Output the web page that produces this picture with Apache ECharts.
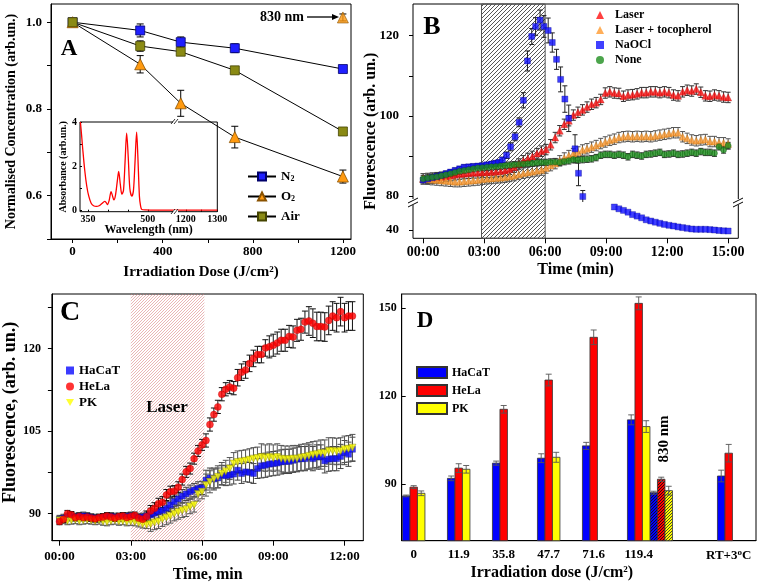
<!DOCTYPE html>
<html><head><meta charset="utf-8">
<script src="https://cdn.jsdelivr.net/npm/echarts@6/dist/echarts.min.js"></script>
<style>html,body{margin:0;padding:0;background:#fff}#c{width:759px;height:588px}</style>
</head><body><div id="c"></div>
<script>
const FONT = "'Liberation Serif','Times New Roman',serif";
// ---------- Panel A ----------
const doseA = [0, 300, 480, 720, 1200];
const n2 = [1.0, 0.981, 0.954, 0.940, 0.892];
const n2Err = [0, 0.015, 0.012, 0.010, 0.004];
const o2 = [1.0, 0.903, 0.813, 0.735, 0.644];
const o2Err = [0, 0.02, 0.03, 0.025, 0.015];
const air = [1.0, 0.945, 0.932, 0.889, 0.748];
const airErr = [0, 0.012, 0.006, 0.008, 0.007];
const o2At830Dose = [1200];
const o2At830 = [1.011];
const o2At830Err = [0.008];
// inset absorbance spectrum
const insetWl = [331,334,337,342,347,352,358,364,371,378,385,392,396,399,403,408,411,415,419,424,427,431,435,439,443,447,451,455,460,464,468,472,475,479,482,485,495,520,570];
const insetAbs = [4.0,3.4,2.75,1.8,1.1,0.65,0.33,0.22,0.19,0.22,0.32,0.42,0.35,0.27,0.45,0.86,0.7,0.48,0.7,1.4,1.77,1.2,0.74,0.9,2.2,3.5,2.4,1.0,0.65,0.9,2.2,3.54,2.5,0.65,0.2,0.05,0.03,0.02,0.02];
const insetWlFar = [1168, 1300];
const insetAbsFar = [0.02, 0.02];
// ---------- Panel B ----------
const bStepMin = 15 / 67;
const tB = []; for (let i = 0; i < 68; i++) tB.push(i * bStepMin);
const laserB = [84.3,84.4,84.5,84.6,84.7,84.9,85.1,85.3,85.5,85.6,
 85.7,85.8,85.8,85.9,85.9,86.0,86.1,86.2,86.4,86.7,
 87.2,88.0,88.8,89.4,89.9,90.6,91.2,91.6,92.8,94.6,
 96.3,97.9,98.8,100.2,100.9,101.5,102.2,102.9,103.3,104.1,
 105.7,106.0,105.7,105.6,104.9,105.2,105.3,105.5,105.8,105.8,
 106.0,106.0,105.8,106.0,105.8,105.2,105.0,106.0,106.4,106.2,
 106.7,105.9,105.0,104.9,105.2,105.0,104.7,104.6];
const tocoB = [84.3,84.2,84.1,84.0,83.9,83.8,83.7,83.6,83.6,83.7,
 83.8,83.9,84.0,84.2,84.3,84.4,84.5,84.6,84.7,84.9,
 85.1,85.4,85.7,85.9,86.1,86.3,86.5,87.0,87.6,88.1,
 88.8,89.5,90.1,90.6,91.0,91.5,91.8,92.2,92.6,93.1,
 93.5,93.9,94.2,94.6,94.8,94.9,94.8,94.9,94.8,94.9,
 94.8,95.0,95.2,95.4,95.6,95.8,95.8,94.8,94.4,94.0,
 93.8,94.0,94.1,93.6,93.6,93.3,93.3,93.0];
const noneB = [84.3,84.5,84.7,84.8,85.1,85.3,85.6,85.9,86.2,86.4,
 86.6,86.8,87.0,87.1,87.2,87.3,87.4,87.5,87.6,87.7,
 87.8,87.9,88.0,88.1,88.2,88.3,88.4,88.4,88.5,88.5,
 88.4,88.6,88.8,89.1,89.0,89.1,89.2,89.3,89.6,90.2,
 90.4,90.4,90.2,90.4,90.2,89.8,90.4,90.2,90.0,90.4,
 90.5,90.7,90.9,90.4,90.5,90.7,90.4,90.5,90.7,90.9,
 90.7,91.1,90.9,90.9,90.7,92.3,91.5,92.6];
const laserBErr = 1.3, tocoBErr = 1.3, noneBErr = 0.8;
const naoclT = [0,0.22,0.45,0.67,0.9,1.12,1.34,1.57,1.79,2.01,2.24,2.46,2.69,2.91,3.13,3.36,3.55,3.72,3.9,4.1,4.3,4.52,4.72,4.93,5.13,5.34,5.53,5.75,5.94,6.15,6.35,6.56,6.76,6.97,7.16,7.47,7.64,7.85];
const naoclV = [84.0,84.3,84.6,84.9,85.2,85.6,86.0,86.4,86.8,87.2,87.3,87.4,87.5,87.6,87.8,88.0,88.2,88.4,89.0,90.2,92.3,94.8,98.4,103.9,113.7,119.8,122.3,123.9,122.3,121.3,118.3,114.1,109.1,104.2,99.4,91.8,85.7,79.9];
const naoclErr = [0.6,0.6,0.6,0.6,0.6,0.6,0.6,0.6,0.6,0.6,0.6,0.6,0.6,0.6,0.6,0.6,0.6,0.6,0.7,0.8,1.0,1.0,1.1,1.9,2.5,2.0,2.2,2.5,2.7,3.1,2.4,2.5,3.1,3.3,3.3,3.5,3.1,1.5];
const naoclLowT = tB.slice(42);
const naoclLow = [63.0,61.2,59.6,57.8,55.4,53.9,52.2,50.2,49.0,47.8,46.7,45.6,44.7,44.0,43.1,42.4,41.7,41.0,40.7,40.7,40.7,40.4,40.0,39.5,39.2,39.0];
const laserSpanB = [2.87, 6.0];
const bTimeTicks = [0, 3, 6, 9, 12, 15];
// ---------- Panel C ----------
const tC = []; for (let i = 0; i < 75; i++) tC.push(i / 6);
const helaC = [88.6,89.0,90.0,89.8,89.3,89.5,89.3,89.4,89.2,89.1,
 89.3,89.4,89.6,89.4,89.2,89.5,89.6,89.3,89.5,89.7,
 89.2,89.0,89.5,90.5,91.0,91.8,92.1,93.4,94.0,94.1,
 94.8,96.2,97.6,98.2,100.0,101.4,102.5,103.3,106.2,108.0,
 109.4,111.7,112.6,113.0,112.8,114.7,115.7,116.1,117.3,118.2,
 118.9,118.9,120.1,120.3,120.6,121.0,121.5,121.5,122.2,122.1,
 123.3,123.5,124.8,125.0,124.6,124.0,124.0,123.9,125.1,125.9,
 125.6,126.7,125.6,125.9,125.9];
const hacatC = [89.0,89.2,89.4,89.5,89.4,89.5,89.6,89.5,89.3,89.2,
 89.2,89.3,89.4,89.5,89.4,89.3,89.4,89.5,89.6,89.4,
 89.3,89.4,89.6,89.8,90.1,90.4,90.6,91.0,91.6,92.2,
 92.7,93.2,93.6,94.0,94.3,94.6,94.7,96.1,96.5,96.3,
 96.5,97.0,96.9,97.0,97.2,97.9,97.3,97.6,97.5,97.3,
 98.2,98.7,98.8,99.0,99.1,99.2,99.4,99.5,99.5,99.7,
 99.9,100.0,100.0,100.3,100.0,100.3,100.3,99.6,99.9,100.0,
 100.0,100.4,101.1,100.8,101.7];
const pkC = [88.8,88.9,88.7,88.8,88.9,88.7,88.8,88.9,88.8,88.7,
 88.8,88.6,88.5,88.7,88.8,88.6,88.7,88.5,88.6,88.5,
 88.3,88.1,88.0,88.1,88.4,88.6,89.0,89.3,89.6,90.0,
 90.3,90.6,90.8,91.3,91.6,93.6,94.0,95.2,95.8,96.3,
 96.7,97.3,97.7,98.2,99.1,99.4,99.5,99.6,99.8,100.0,
 100.1,100.3,100.1,100.3,100.1,100.3,100.0,99.9,99.9,100.0,
 100.0,100.2,100.3,100.5,100.7,100.8,101.0,101.0,101.4,101.4,
 101.3,101.4,101.7,101.8,102.0];
const helaCErr = [0.6,0.6,0.6,0.6,0.6,0.6,0.6,0.6,0.6,0.6,0.6,0.6,0.6,0.6,0.6,0.6,0.6,0.6,0.6,0.6,0.6,0.6,
 1.0,1.0,1.0,1.0,1.0,1.0,1.0,1.0,1.0,1.0,1.0,1.0,1.0,1.0,1.0,
 1.2,1.2,1.2,1.2,1.2,1.2,1.2,1.2,
 1.5,1.5,1.5,1.5,1.5,1.5,1.5,1.5,
 2.0,2.0,2.0,2.0,2.0,2.0,2.0,2.0,2.0,2.0,
 2.6,2.6,2.6,2.6,2.6,2.6,2.6,2.6,2.6,2.6,2.6,2.6];
const hacatCErr = [0.7,0.7,0.7,0.7,0.7,0.7,0.7,0.7,0.7,0.7,0.7,0.7,0.7,0.7,0.7,0.7,0.7,0.7,0.7,0.7,0.7,0.7,0.7,
 1.2,1.2,1.2,1.2,1.2,1.2,1.2,1.2,1.2,1.2,1.2,1.2,1.2,1.2,
 1.8,1.8,1.8,1.8,1.8,1.8,1.8,1.8,1.8,1.8,1.8,1.8,1.8,1.8,
 2.2,2.2,2.2,2.2,2.2,2.2,2.2,2.2,2.2,2.2,2.2,2.2,2.2,2.2,2.2,2.2,2.2,2.2,2.2,2.2,2.2,2.2,2.2,2.2];
const pkCErr = [0.7,0.7,0.7,0.7,0.7,0.7,0.7,0.7,0.7,0.7,0.7,0.7,0.7,0.7,0.7,0.7,0.7,0.7,0.7,0.7,0.7,0.7,0.7,
 1.3,1.3,1.3,1.3,1.3,1.3,1.3,1.3,1.3,1.3,1.3,1.3,1.3,1.3,
 2.0,2.0,2.0,2.0,2.0,2.0,2.0,2.0,2.0,2.0,2.0,2.0,2.0,2.0,
 2.4,2.4,2.4,2.4,2.4,2.4,2.4,2.4,2.4,2.4,2.4,2.4,2.4,2.4,2.4,2.4,2.4,2.4,2.4,2.4,2.4,2.4,2.4,2.4];
const laserSpanC = [3.0, 6.1];
const cTimeTicks = [0, 3, 6, 9, 12];
// ---------- Panel D ----------
const dCats = ['0', '11.9', '35.8', '47.7', '71.6', '119.4', '830 nm', 'RT+3°C'];
const dHaCaT = [85.9, 91.9, 97.1, 98.8, 103.0, 111.9, 87.0, 92.7];
const dHeLa = [88.9, 95.4, 115.5, 125.5, 140.1, 151.7, 91.6, 100.5];
const dPK = [86.8, 95.0, null, 99.1, null, 109.6, 87.7, null];
const dHaCaTErr = [0.3, 0.8, 0.7, 1.5, 1.2, 1.7, 0.5, 2.0];
const dHeLaErr = [0.5, 1.5, 1.3, 2.0, 2.5, 2.2, 0.7, 3.0];
const dPKErr = [0.8, 1.3, null, 1.7, null, 2.0, 1.5, null];
// layout: half-slot position of each group on the D axis
const dSlot = [0, 2, 4, 6, 8, 10, 11, 14];
const D_YMIN = 70.6, D_YMAX = 154.9;

// ---------- helpers ----------
function hatch(fg, bg, step, lw) {
  const c = document.createElement('canvas');
  c.width = step; c.height = step;
  const g = c.getContext('2d');
  if (bg) { g.fillStyle = bg; g.fillRect(0, 0, step, step); }
  g.strokeStyle = fg; g.lineWidth = lw;
  g.beginPath();
  g.moveTo(0, step); g.lineTo(step, 0);
  g.moveTo(-1, 1); g.lineTo(1, -1);
  g.moveTo(step - 1, step + 1); g.lineTo(step + 1, step - 1);
  g.stroke();
  return { image: c, repeat: 'repeat' };
}
const TXT = { fontFamily: FONT, fontWeight: 'bold', color: '#000' };
function errRender(color, cap, lw) {
  return function (params, api) {
    const x = api.value(0), lo = api.value(1), hi = api.value(2);
    const a = api.coord([x, lo]), b = api.coord([x, hi]);
    const st = { stroke: color, lineWidth: lw || 1 };
    return { type: 'group', children: [
      { type: 'line', shape: { x1: a[0], y1: a[1], x2: b[0], y2: b[1] }, style: st },
      { type: 'line', shape: { x1: a[0] - cap, y1: a[1], x2: a[0] + cap, y2: a[1] }, style: st },
      { type: 'line', shape: { x1: b[0] - cap, y1: b[1], x2: b[0] + cap, y2: b[1] }, style: st }
    ] };
  };
}
function errSeries(xs, ys, es, ai, color, cap, z) {
  const data = [];
  for (let i = 0; i < xs.length; i++) {
    const e = Array.isArray(es) ? es[i] : es;
    if (ys[i] == null || !e) continue;
    data.push([xs[i], ys[i] - e, ys[i] + e]);
  }
  return { type: 'custom', xAxisIndex: ai, yAxisIndex: ai, renderItem: errRender(color, cap), data: data,
    clip: true, silent: true, z: z || 1, encode: { x: 0, y: [1, 2] } };
}
function pts(xs, ys) { const r = []; xs.forEach((x, i) => { if (ys[i] != null) r.push([x, ys[i]]); }); return r; }
function hidden(grid, min, max) { return { gridIndex: grid, type: 'value', show: false, min: min, max: max }; }
function timeFmt(v) { return (v < 10 ? '0' : '') + v + ':00'; }
const plain = v => String(v);
const SUP = { fontFamily: FONT, fontWeight: 'bold', fontSize: 9, verticalAlign: 'top', padding: [0, 0, 6, 0] };

// ---------- D bars via custom ----------
const hatchFill = { '#0000ff': hatch('#111', '#0000ff', 3, 0.9), '#ff0000': hatch('#111', '#ff0000', 3, 0.9), '#ffff00': hatch('#333', '#ffff00', 3, 0.9) };
function barRender(color, off) {
  return function (params, api) {
    const k = api.value(0), v = api.value(1), e = api.value(2), hat = api.value(3);
    const w = api.size([1 / 3, 0])[0];
    const top = api.coord([k, v]), bot = api.coord([k, D_YMIN]);
    const cx = top[0] + off * w;
    const ch = [{ type: 'rect', shape: { x: cx - w / 2, y: top[1], width: w, height: bot[1] - top[1] },
      style: { fill: hat ? hatchFill[color] : color, stroke: '#333', lineWidth: 0.8 } }];
    if (e) {
      const a = api.coord([k, v + e]), b = api.coord([k, v - e]);
      const st = { stroke: '#555', lineWidth: 0.9 };
      ch.push({ type: 'line', shape: { x1: cx, y1: a[1], x2: cx, y2: b[1] }, style: st });
      ch.push({ type: 'line', shape: { x1: cx - 3, y1: a[1], x2: cx + 3, y2: a[1] }, style: st });
      ch.push({ type: 'line', shape: { x1: cx - 3, y1: b[1], x2: cx + 3, y2: b[1] }, style: st });
    }
    return { type: 'group', children: ch };
  };
}
function barSeries(name, vals, errs, color, off) {
  const data = [];
  vals.forEach((v, i) => { if (v != null) data.push([dSlot[i], v, errs[i] || 0, dCats[i] === '830 nm' ? 1 : 0]); });
  return { type: 'custom', name: name, xAxisIndex: 8, yAxisIndex: 8, renderItem: barRender(color, off), data: data,
    itemStyle: { color: color, borderColor: '#333', borderWidth: 0.8 }, encode: { x: 0, y: 1 } };
}

const chart = echarts.init(document.getElementById('c'), null, { renderer: 'canvas' });
const grids = [
  { left: 51, top: 4, width: 300, height: 235, show: true, borderColor: '#000', borderWidth: 1 },         // 0 A
  { left: 80, top: 122, width: 137.3, height: 89.7, show: true, borderColor: '#000', borderWidth: 1 },   // 1 inset frame
  { left: 80, top: 122, width: 95.7, height: 89.7 },                                                      // 2 inset left
  { left: 175.7, top: 122, width: 41.6, height: 89.7 },                                                   // 3 inset right
  { left: 413, top: 4, width: 325.3, height: 234.3, show: true, borderColor: '#000', borderWidth: 1 },   // 4 B frame
  { left: 413, top: 4, width: 325.3, height: 198 },                                                       // 5 B upper
  { left: 413, top: 202, width: 325.3, height: 36.3 },                                                    // 6 B lower
  { left: 49, top: 294, width: 314.3, height: 246.7, show: true, borderColor: '#000', borderWidth: 1 },   // 7 C
  { left: 401.7, top: 294, width: 354.3, height: 246.7, show: true, borderColor: '#000', borderWidth: 1 } // 8 D
];
const axLine = { show: true, onZero: false, lineStyle: { color: '#000', width: 1 } };
const noLine = { show: false, onZero: false };
const tick = (vals, len, inside) => ({ show: true, customValues: vals, length: len || 4, inside: !!inside, lineStyle: { color: '#000' } });
const lab = (vals, size, margin, fmt, rich) => Object.assign({ show: true, customValues: vals, fontSize: size, margin: margin, formatter: fmt || plain, rich: rich }, TXT);

const xAxes = [
  { gridIndex: 0, type: 'value', min: -96, max: 1236, axisLine: axLine, splitLine: { show: false },
    axisTick: tick([0, 200, 400, 600, 800, 1000, 1200], 4), axisLabel: lab([0, 400, 800, 1200], 13, 6),
    name: 'Irradiation Dose (J/cm{sup|2})', nameLocation: 'middle', nameGap: 26,
    nameTextStyle: Object.assign({ fontSize: 15, rich: { sup: SUP } }, TXT) },
  { gridIndex: 1, type: 'value', min: 0, max: 1, axisLine: noLine, axisTick: { show: false }, axisLabel: { show: false }, splitLine: { show: false },
    name: 'Wavelength (nm)', nameLocation: 'middle', nameGap: 12, nameTextStyle: Object.assign({ fontSize: 12 }, TXT) },
  { gridIndex: 2, type: 'value', min: 330, max: 570, axisLine: noLine, splitLine: { show: false },
    axisTick: tick([350, 400, 450, 500], 2, true), axisLabel: lab([350, 500], 10, 3) },
  { gridIndex: 3, type: 'value', min: 1168, max: 1300, axisLine: noLine, splitLine: { show: false },
    axisTick: tick([1200, 1250, 1300], 2, true), axisLabel: lab([1200, 1300], 10, 3) },
  { gridIndex: 4, type: 'value', min: -0.5, max: 15.5, axisLine: noLine, axisTick: { show: false }, axisLabel: { show: false }, splitLine: { show: false } },
  hidden(5, -0.5, 15.5),
  { gridIndex: 6, type: 'value', min: -0.5, max: 15.5, axisLine: noLine, splitLine: { show: false },
    axisTick: tick(bTimeTicks, 5), axisLabel: lab(bTimeTicks, 14, 7, timeFmt),
    name: 'Time (min)', nameLocation: 'middle', nameGap: 24, nameTextStyle: Object.assign({ fontSize: 16 }, TXT) },
  { gridIndex: 7, type: 'value', min: -0.32, max: 12.79, axisLine: axLine, splitLine: { show: false },
    axisTick: tick(cTimeTicks, 5), axisLabel: lab(cTimeTicks, 13, 9, timeFmt),
    name: 'Time, min', nameLocation: 'middle', nameGap: 26, nameTextStyle: Object.assign({ fontSize: 16 }, TXT) },
  { gridIndex: 8, type: 'value', min: -0.533, max: 15.213, axisLine: axLine, splitLine: { show: false },
    axisTick: { show: false },
    axisLabel: lab([0, 2, 4, 6, 8, 10, 14], 13, 7, v => dCats[dSlot.indexOf(v)].replace('°', '{sup|o}'), { sup: SUP }),
    name: 'Irradiation dose (J/cm{sup|2})', nameLocation: 'middle', nameGap: 24,
    nameTextStyle: Object.assign({ fontSize: 16, padding: [0, 54, 0, 0], rich: { sup: SUP } }, TXT) }
];
const yAxes = [
  { gridIndex: 0, type: 'value', min: 0.5, max: 1.042, axisLine: axLine, splitLine: { show: false },
    axisTick: tick([0.5, 0.6, 0.7, 0.8, 0.9, 1.0], 4), axisLabel: lab([0.6, 0.8, 1.0], 13, 9, v => v.toFixed(1)),
    name: 'Normalised Concentration (arb.un.)', nameLocation: 'middle', nameGap: 33,
    nameTextStyle: Object.assign({ fontSize: 14 }, TXT) },
  { gridIndex: 1, type: 'value', min: 0, max: 1, axisLine: noLine, axisTick: { show: false }, axisLabel: { show: false }, splitLine: { show: false },
    name: 'Absorbance (arb.un.)', nameLocation: 'middle', nameGap: 12, nameTextStyle: Object.assign({ fontSize: 10 }, TXT) },
  { gridIndex: 2, type: 'value', min: -0.05, max: 4, axisLine: noLine, splitLine: { show: false },
    axisTick: tick([0, 1, 2, 3, 4], 2, true), axisLabel: lab([0, 2, 4], 10, 3) },
  hidden(3, -0.05, 4),
  { gridIndex: 4, type: 'value', min: 0, max: 1, axisLine: noLine, axisTick: { show: false }, axisLabel: { show: false }, splitLine: { show: false },
    name: 'Fluorescence (arb. un.)', nameLocation: 'middle', nameGap: 34,
    nameTextStyle: Object.assign({ fontSize: 16, padding: [0, 20, 0, 0] }, TXT) },
  { gridIndex: 5, type: 'value', min: 78.53, max: 127.9, axisLine: noLine, splitLine: { show: false },
    axisTick: tick([80, 90, 100, 110, 120], 4), axisLabel: lab([80, 100, 120], 13, 14) },
  { gridIndex: 6, type: 'value', min: 31.7, max: 68, axisLine: noLine, splitLine: { show: false },
    axisTick: tick([40], 4), axisLabel: lab([40], 13, 14) },
  { gridIndex: 7, type: 'value', min: 85.1, max: 129.9, axisLine: axLine, splitLine: { show: false },
    axisTick: tick([90, 97.5, 105, 112.5, 120, 127.5], 4), axisLabel: lab([90, 105, 120], 12, 11),
    name: 'Fluorescence, (arb. un.)', nameLocation: 'middle', nameGap: 30,
    nameTextStyle: Object.assign({ fontSize: 18, padding: [0, 0, 0, 10] }, TXT) },
  { gridIndex: 8, type: 'value', min: D_YMIN, max: D_YMAX, axisLine: axLine, splitLine: { show: false },
    axisTick: tick([90, 120, 150], 4, true), axisLabel: lab([90, 120, 150], 12, 5) }
];

const hatchB = hatch('#444', null, 4, 0.9);
const hatchC = hatch('rgba(215,120,120,0.6)', null, 3, 0.9);

const series = [
  // ---- A ----
  errSeries(doseA, n2, n2Err, 0, '#000', 3.5),
  errSeries(doseA, o2, o2Err, 0, '#000', 3.5),
  errSeries(doseA, air, airErr, 0, '#000', 3.5),
  errSeries(o2At830Dose, o2At830, o2At830Err, 0, '#000', 3.5),
  { type: 'line', name: 'N2', xAxisIndex: 0, yAxisIndex: 0, data: pts(doseA, n2), symbol: 'rect', symbolSize: 9,
    lineStyle: { color: '#000', width: 1 }, itemStyle: { color: '#1f1fff', borderColor: '#00006a', borderWidth: 0.8 }, z: 3 },
  { type: 'line', name: 'O2', xAxisIndex: 0, yAxisIndex: 0, data: pts(doseA, o2), symbol: 'triangle', symbolSize: 11,
    lineStyle: { color: '#000', width: 1 }, itemStyle: { color: '#ff9a10', borderColor: '#8a5200', borderWidth: 0.8 }, z: 3 },
  { type: 'line', name: 'Air', xAxisIndex: 0, yAxisIndex: 0, data: pts(doseA, air), symbol: 'rect', symbolSize: 9,
    lineStyle: { color: '#000', width: 1 }, itemStyle: { color: '#8a8a14', borderColor: '#444400', borderWidth: 0.8 }, z: 3 },
  { type: 'scatter', name: '_o2_830', xAxisIndex: 0, yAxisIndex: 0, data: pts(o2At830Dose, o2At830), symbol: 'triangle', symbolSize: 11,
    itemStyle: { color: '#ff9a10', borderColor: '#8a5200', borderWidth: 0.8 }, z: 3 },
  { type: 'line', name: '_abs', xAxisIndex: 2, yAxisIndex: 2, data: pts(insetWl, insetAbs), symbol: 'none', smooth: 0.3,
    lineStyle: { color: '#ff0000', width: 1.3 }, clip: true },
  { type: 'line', name: '_abs2', xAxisIndex: 3, yAxisIndex: 3, data: pts(insetWlFar, insetAbsFar), symbol: 'none',
    lineStyle: { color: '#ff0000', width: 1.3 } },
  // ---- B ----
  { type: 'scatter', name: '_bframe', xAxisIndex: 4, yAxisIndex: 4, data: [], silent: true,
    markArea: { silent: true, itemStyle: { color: hatchB, borderColor: '#555', borderWidth: 1 },
      data: [[{ xAxis: laserSpanB[0] }, { xAxis: laserSpanB[1] }]] } },
  errSeries(tB, laserB, laserBErr, 5, '#333', 2.5),
  errSeries(tB, tocoB, tocoBErr, 5, '#555', 2.5),
  errSeries(naoclT, naoclV, naoclErr, 5, '#222', 2.5),
  errSeries(tB, noneB, noneBErr, 5, '#333', 2.5),
  { type: 'scatter', name: 'Laser', xAxisIndex: 5, yAxisIndex: 5, data: pts(tB, laserB), symbol: 'triangle', symbolSize: 7,
    itemStyle: { color: '#ff1010', borderColor: '#a00000', borderWidth: 0.4 }, z: 3 },
  { type: 'scatter', name: 'Laser + tocopherol', xAxisIndex: 5, yAxisIndex: 5, data: pts(tB, tocoB), symbol: 'triangle', symbolSize: 7,
    itemStyle: { color: '#ff9a30', borderColor: '#a05a00', borderWidth: 0.4 }, z: 3 },
  { type: 'scatter', name: 'NaOCl', xAxisIndex: 5, yAxisIndex: 5, data: pts(naoclT, naoclV), symbol: 'rect', symbolSize: 6,
    itemStyle: { color: '#1010ff', borderColor: '#000080', borderWidth: 0.4 }, z: 3, clip: true },
  { type: 'scatter', name: 'None', xAxisIndex: 5, yAxisIndex: 5, data: pts(tB, noneB), symbol: 'circle', symbolSize: 6,
    itemStyle: { color: '#1f8f1f', borderColor: '#0a4a0a', borderWidth: 0.4 }, z: 3 },
  { type: 'scatter', name: '_naocl_low', xAxisIndex: 6, yAxisIndex: 6, data: pts(naoclLowT, naoclLow), symbol: 'rect', symbolSize: 6,
    itemStyle: { color: '#1010ff', borderColor: '#000080', borderWidth: 0.4 }, z: 3 },
  // ---- C ----
  errSeries(tC, hacatC, hacatCErr, 7, '#444', 3),
  errSeries(tC, pkC, pkCErr, 7, '#555', 3),
  errSeries(tC, helaC, helaCErr, 7, '#111', 3),
  { type: 'scatter', name: 'HaCaT', xAxisIndex: 7, yAxisIndex: 7, data: pts(tC, hacatC), symbol: 'rect', symbolSize: 6,
    itemStyle: { color: '#0a0aff', borderColor: '#000070', borderWidth: 0.4 }, z: 3,
    markArea: { silent: true, itemStyle: { color: hatchC }, data: [[{ xAxis: laserSpanC[0] }, { xAxis: laserSpanC[1] }]] } },
  { type: 'scatter', name: 'PK', xAxisIndex: 7, yAxisIndex: 7, data: pts(tC, pkC), symbol: 'triangle', symbolRotate: 180, symbolSize: 7,
    itemStyle: { color: '#ffff00', borderColor: '#8a8a00', borderWidth: 0.6 }, z: 3 },
  { type: 'scatter', name: 'HeLa', xAxisIndex: 7, yAxisIndex: 7, data: pts(tC, helaC), symbol: 'circle', symbolSize: 7,
    itemStyle: { color: '#ff0000', borderColor: '#b00000', borderWidth: 0.4 }, z: 4 },
  // ---- D ----
  barSeries('HaCaT\u200b', dHaCaT, dHaCaTErr, '#0000ff', -1),
  barSeries('HeLa\u200b', dHeLa, dHeLaErr, '#ff0000', 0),
  barSeries('PK\u200b', dPK, dPKErr, '#ffff00', 1)
];

const legTxt = (size) => Object.assign({ fontSize: size }, TXT);
const legends = [
  { orient: 'vertical', left: 247, top: 170, padding: 0, itemWidth: 28, itemHeight: 10, itemGap: 7,
    data: ['N2', 'O2', 'Air'], formatter: n => n.replace(/(\d)$/, '{s|$1}'),
    textStyle: Object.assign(legTxt(13), { rich: { s: { fontFamily: FONT, fontWeight: 'bold', fontSize: 8, verticalAlign: 'bottom', padding: [5, 0, 0, 0] } } }) },
  { orient: 'vertical', left: 596, top: 9, padding: 0, itemWidth: 8, itemHeight: 8, itemGap: 3,
    itemStyle: { borderWidth: 0 },
    data: ['Laser', 'Laser + tocopherol', 'NaOCl', 'None'], formatter: n => '\u2002' + n, textStyle: legTxt(12) },
  { orient: 'vertical', left: 66, top: 364, padding: 0, itemWidth: 8, itemHeight: 8, itemGap: 3,
    itemStyle: { borderWidth: 0 },
    data: ['HaCaT', 'HeLa', { name: 'PK', icon: 'path://M0,0 L10,0 L5,9 Z' }], textStyle: legTxt(13) },
  { orient: 'vertical', left: 416, top: 366, padding: 0, itemWidth: 30, itemHeight: 11, itemGap: 5,
    data: [{ name: 'HaCaT\u200b', icon: 'rect' }, { name: 'HeLa\u200b', icon: 'rect' }, { name: 'PK\u200b', icon: 'rect' }],
    formatter: n => n.replace('\u200b', ''), textStyle: legTxt(12) }
];

const bigText = (txt, x, y, size, rot) => ({ type: 'text', x: x, y: y, rotation: rot || 0, z: 100,
  style: { text: txt, fill: '#000', font: 'bold ' + size + 'px ' + FONT, align: 'center', verticalAlign: 'middle' } });
const seg = (x1, y1, x2, y2, w, c) => ({ type: 'line', z: 100, shape: { x1, y1, x2, y2 }, style: { stroke: c || '#000', lineWidth: w || 1 } });
const whiteRect = (x, y, w, h) => ({ type: 'rect', z: 99, shape: { x, y, width: w, height: h }, style: { fill: '#fff' } });

const graphic = [
  bigText('A', 69, 49, 23), bigText('B', 432, 27, 26), bigText('C', 70, 313, 28), bigText('D', 425, 321, 23),
  bigText('830 nm', 282, 17, 14),
  seg(307, 17, 333, 17, 1.3),
  { type: 'polygon', z: 100, shape: { points: [[332, 14], [339, 17], [332, 20]] }, style: { fill: '#000' } },
  bigText('Laser', 167, 408, 17),
  bigText('830 nm', 664, 439, 15, Math.PI / 2),
  // B axis break marks
  whiteRect(410, 199, 7, 6), seg(408, 203, 418, 198), seg(408, 207, 418, 202),
  whiteRect(735, 199, 7, 6), seg(733, 203, 743, 198), seg(733, 207, 743, 202),
  // inset break marks
  whiteRect(173, 120, 5, 4), seg(171, 124, 175, 119, 0.8), seg(174, 124, 178, 119, 0.8),
  whiteRect(173, 210, 5, 4), seg(171, 214, 175, 209, 0.8), seg(174, 214, 178, 209, 0.8)
];

chart.setOption({
  animation: false,
  backgroundColor: '#fff',
  textStyle: { fontFamily: FONT },
  grid: grids, xAxis: xAxes, yAxis: yAxes, legend: legends, series: series, graphic: graphic
});
</script></body></html>
